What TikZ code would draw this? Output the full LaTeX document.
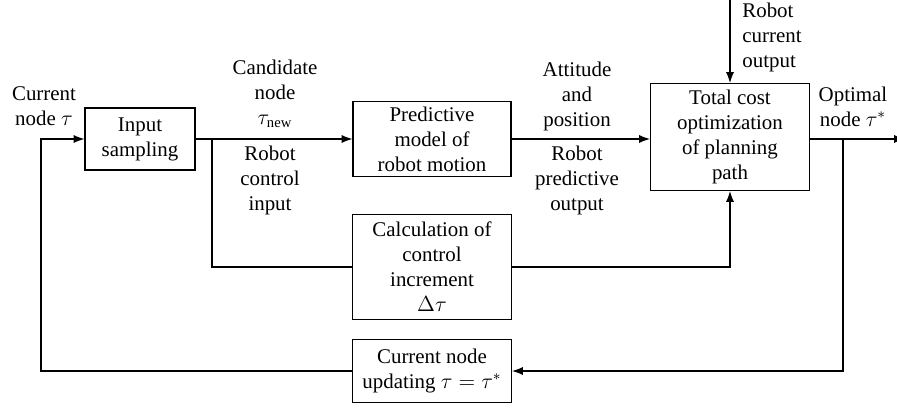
\documentclass[tikz,border=0pt]{standalone}
\usepackage{fontspec}
\setmainfont{Liberation Serif}
\usetikzlibrary{arrows.meta}

\begin{document}
\begin{tikzpicture}[x=0.55pt,y=-0.55pt]
      \useasboundingbox (0,0) rectangle (897,409);

      \tikzstyle{block} = [
        rectangle,
        draw=black,
        line width=0.6pt,
        align=center,
        inner sep=2pt,
        font=\fontsize{11.5}{13.75}\selectfont
      ]
      \tikzstyle{blocklabel} = [
        draw=none,
        align=center,
        inner sep=0pt,
        font=\fontsize{11.5}{13.75}\selectfont
      ]
      \tikzstyle{line} = [line width=0.6pt, draw=black]
      \tikzstyle{arrow} = [line, -{Latex[length=6pt,width=4.5pt]}]

      % blocks
      \node[block,minimum width=110*0.55pt,minimum height=62*0.55pt] (inputSampling) at (140,139) {Input\\sampling};
      \node[block,minimum width=158*0.55pt,minimum height=75*0.55pt] (predModel) at (432,139) {Predictive\\model of\\robot motion};
      \node[block,minimum width=159*0.55pt,minimum height=107*0.55pt] (totalCost) at (730,137) {Total cost\\optimization\\of planning\\path};
      \node[block,minimum width=159*0.55pt,minimum height=105*0.55pt] (calcIncr) at (432,267) {Calculation of\\control\\increment\\$\Delta\tau$};
      \node[block,minimum width=159*0.55pt,minimum height=63*0.55pt] (nodeUpdate) at (432,371) {Current node\\updating $\tau = \tau^{*}$};

      % branch points and free ends
      \coordinate (splitIn) at (212,139);
      \coordinate (splitOut) at (843,139);
      \coordinate (robotOut) at (730,0);
      \coordinate (optOut) at (905,139);

      % labels
      \node[blocklabel] (curNodeLabel) at (44,106) {Current\\node $\tau$};
      \node[blocklabel] (candLabel) at (275,94) {Candidate\\node\\$\tau_{\mathrm{new}}$};
      \node[blocklabel] (ctrlLabel) at (270,180) {Robot\\control\\input};
      \node[blocklabel] (attLabel) at (577,96) {Attitude\\and\\position};
      \node[blocklabel] (predLabel) at (577,180) {Robot\\predictive\\output};
      \node[blocklabel,anchor=west,align=left] (curOutLabel) at (742,37) {Robot\\current\\output};
      \node[blocklabel] (optLabel) at (853,107) {Optimal\\node $\tau^{*}$};

      % forward path
      \draw[arrow] (inputSampling.east) -- (predModel.west);
      \draw[arrow] (predModel.east) -- (totalCost.west |- predModel.east);
      \draw[arrow] (robotOut) -- (totalCost.north);
      \draw[arrow] (totalCost.east |- splitOut) -- (optOut);

      % control increment
      \draw[line] (splitIn) |- (calcIncr.west);
      \draw[arrow] (calcIncr.east) -| (totalCost.south);

      % feedback
      \draw[arrow] (splitOut) |- (nodeUpdate.east);
      \draw[arrow] (nodeUpdate.west) -- (41,371) |- (inputSampling.west);
    \end{tikzpicture}
\end{document}
